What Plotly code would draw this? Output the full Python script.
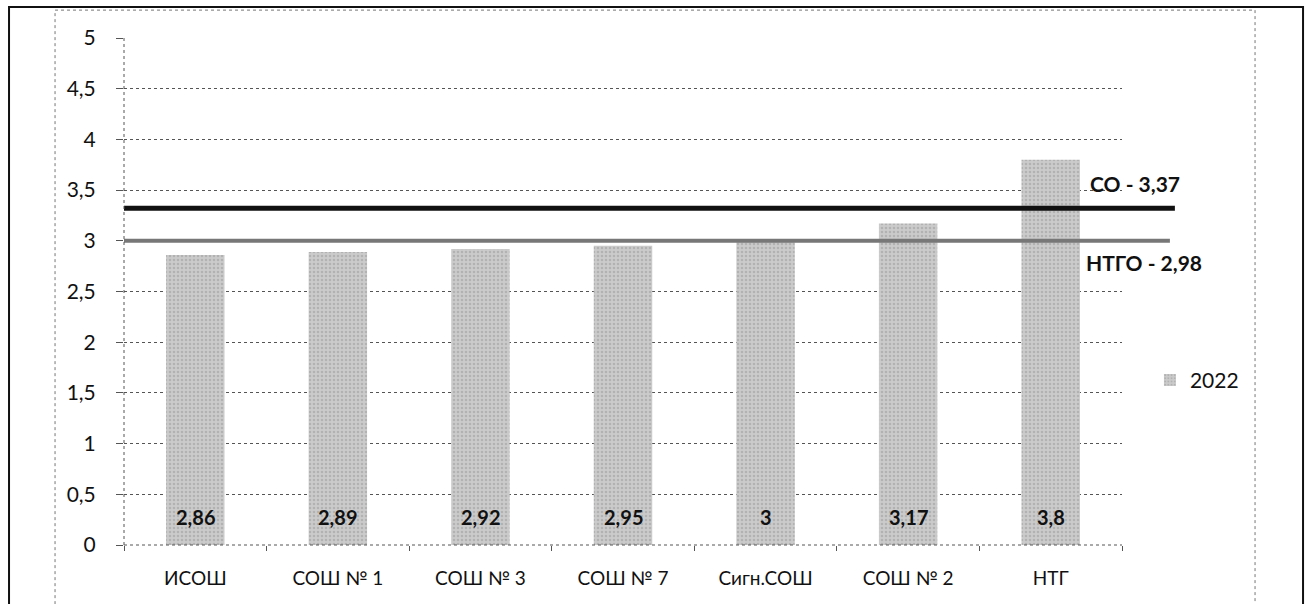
import plotly.graph_objects as go

categories = ["ИСОШ", "СОШ № 1", "СОШ № 3", "СОШ № 7", "Сигн.СОШ", "СОШ № 2", "НТГ"]
values_2022 = [2.86, 2.89, 2.92, 2.95, 3.0, 3.17, 3.8]
series_name = "2022"
co_value = 3.37
co_label = "СО - 3,37"
ntgo_value = 2.98
ntgo_label = "НТГО - 2,98"
y_ticks = [0, 0.5, 1, 1.5, 2, 2.5, 3, 3.5, 4, 4.5, 5]

FONT = "Lato, 'Open Sans', sans-serif"

fig = go.Figure()
fig.add_trace(go.Bar(
    x=categories, y=values_2022, name=series_name,
    marker=dict(color="#c2c2c2", line=dict(width=0),
                pattern=dict(shape=".", fgcolor="#9a9a9a", bgcolor="#cbcbcb", size=4, solidity=0.35)),
    showlegend=True,
))

def fmt(v):
    return ("%g" % v).replace(".", ",")

for c, v in zip(categories, values_2022):
    fig.add_annotation(x=c, y=0.28, xref="x", yref="y", text="<b>%s</b>" % fmt(v),
                       showarrow=False, font=dict(size=20, color="#111", family=FONT))

shapes = []
shapes.append(dict(type="line", xref="paper", yref="y", x0=0, x1=1.053, y0=co_value - 0.05, y1=co_value - 0.05,
                   line=dict(color="#111", width=5)))
shapes.append(dict(type="line", xref="paper", yref="y", x0=0, x1=1.048, y0=ntgo_value + 0.02, y1=ntgo_value + 0.02,
                   line=dict(color="#777", width=4)))
shapes.append(dict(type="line", xref="paper", yref="paper", x0=0, x1=0, y0=0, y1=1,
                   line=dict(color="#555", width=1, dash="dot")))
shapes.append(dict(type="line", xref="paper", yref="paper", x0=0, x1=1, y0=0, y1=0,
                   line=dict(color="#555", width=1, dash="dot")))
shapes.append(dict(type="rect", xref="paper", yref="paper", x0=-0.1152, x1=1.1814, y0=-0.3, y1=1.061,
                   line=dict(color="#111", width=2), layer="below"))
shapes.append(dict(type="rect", xref="paper", yref="paper", x0=-0.0691, x1=1.1333, y0=-0.3, y1=1.055,
                   line=dict(color="#777", width=1, dash="dot"), layer="below"))
fig.update_layout(shapes=shapes)

fig.add_annotation(x=0.966, y=co_value, xref="paper", yref="y", yshift=20, xanchor="left",
                   text="<b>%s</b>" % co_label, showarrow=False,
                   font=dict(size=21, color="#111", family=FONT))
fig.add_annotation(x=0.962, y=ntgo_value, xref="paper", yref="y", yshift=-20, xanchor="left",
                   text="<b>%s</b>" % ntgo_label, showarrow=False,
                   font=dict(size=21, color="#111", family=FONT))

fig.update_layout(
    width=1309, height=604,
    margin=dict(l=124, r=187, t=38, b=59, autoexpand=False),
    paper_bgcolor="white", plot_bgcolor="white",
    separators=", ",
    bargap=0.59,
    font=dict(family=FONT, size=18, color="#111"),
    legend=dict(x=1.028, y=0.325, xanchor="left", yanchor="middle",
                font=dict(size=21, color="#111", family=FONT), bgcolor="rgba(0,0,0,0)",
                itemsizing="constant", itemwidth=30),
    xaxis=dict(showgrid=False, ticks="outside", tickson="boundaries", ticklen=5, tickcolor="#555",
               showline=False, zeroline=False, ticklabelstandoff=20, automargin=False,
               tickfont=dict(size=19, color="#111", family=FONT)),
    yaxis=dict(range=[0, 5], tickvals=y_ticks, showgrid=True, gridcolor="#555", griddash="dot",
               gridwidth=1, ticks="outside", ticklen=7, tickcolor="#555", zeroline=False,
               showline=False, ticklabelstandoff=16, automargin=False,
               tickfont=dict(size=21, color="#111", family=FONT)),
)

fig.write_html("out.html", config={"displayModeBar": False},
               post_script="document.body.style.margin='0px';document.body.style.overflow='hidden';")
